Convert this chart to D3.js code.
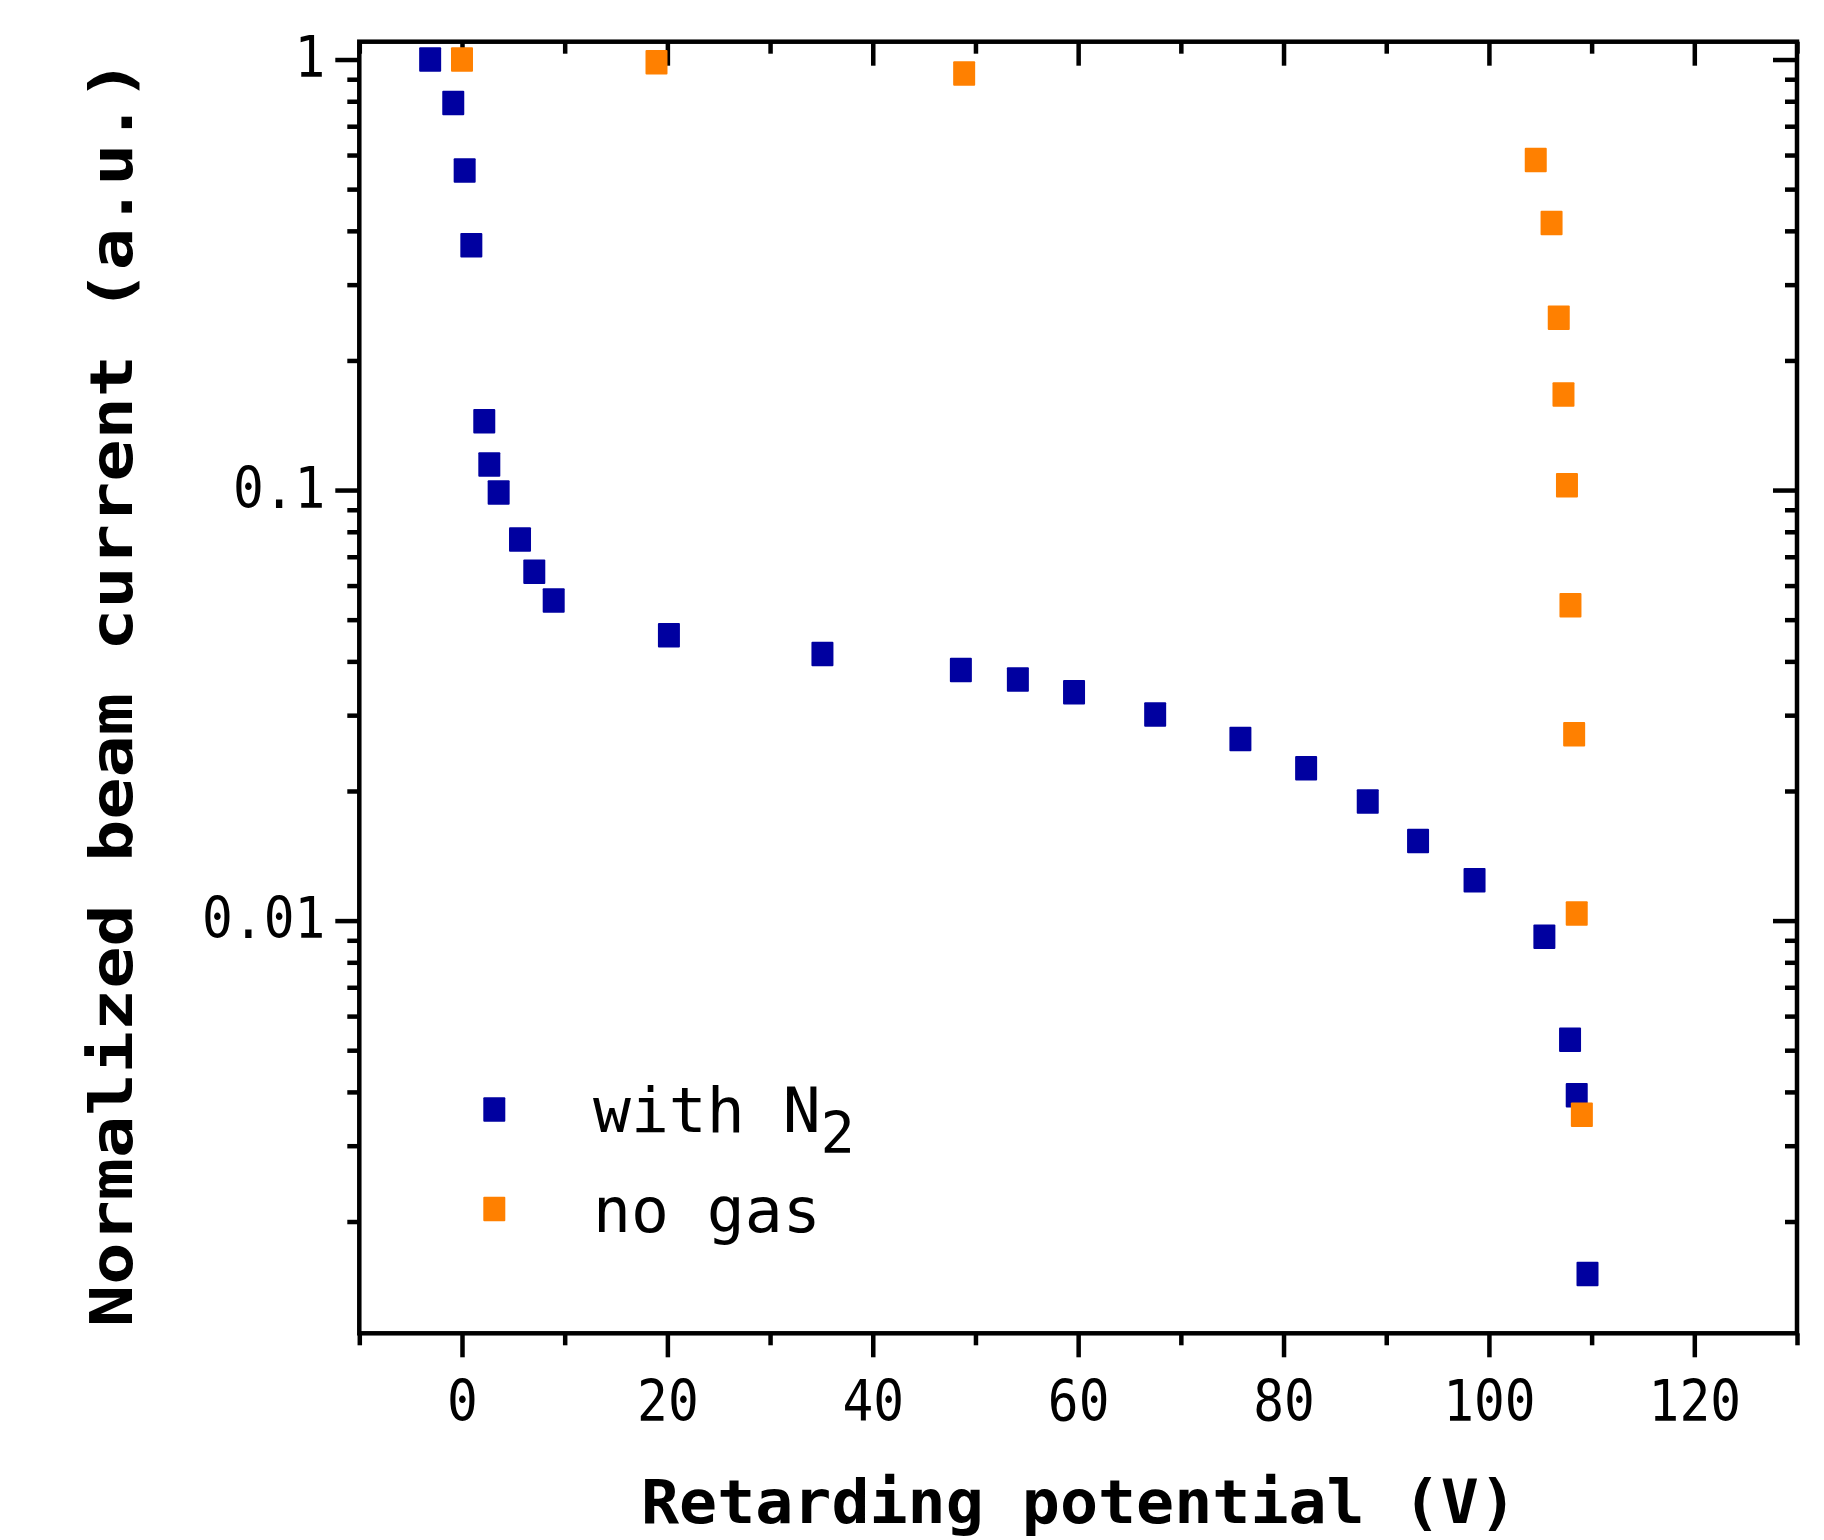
<!DOCTYPE html>
<html>
<head>
<meta charset="utf-8">
<script src="https://cdn.jsdelivr.net/npm/d3@7"></script>
<style>
  body { margin: 0; background: #fff; }
  svg { display: block; }
</style>
</head>
<body>
<svg id="chart"></svg>
<script>
// Data
const n2Voltage = [-3.1, -0.85, 0.26, 0.91, 2.17, 2.66, 3.57, 5.65, 7.04, 8.93,
                   20.15, 35.1, 48.58, 54.13, 59.6, 67.5, 75.8, 82.2, 88.2, 93.1,
                   98.6, 105.4, 107.9, 108.55, 109.6];
const n2Current = [1.0, 0.793, 0.552, 0.3704, 0.1445, 0.1146, 0.0987, 0.0768, 0.0646, 0.0554,
                   0.046, 0.0416, 0.0382, 0.0363, 0.0339, 0.0301, 0.0264, 0.0226, 0.0189, 0.0153,
                   0.0124, 0.00917, 0.00529, 0.00393, 0.00151];
const noGasVoltage = [0, 18.94, 48.9, 104.56, 106.1, 106.8, 107.26, 107.6, 107.94, 108.3, 108.55, 109.05];
const noGasCurrent = [1.0, 0.985, 0.928, 0.584, 0.417, 0.2513, 0.1667, 0.1026, 0.054, 0.0271, 0.01039, 0.00354];

const xMajorTicks = [0, 20, 40, 60, 80, 100, 120];
const xMinorTicks = [-10, 10, 30, 50, 70, 90, 110, 130];
const yMajorTicks = [1, 0.1, 0.01];
const yMinorTicks = [0.9, 0.8, 0.7, 0.6, 0.5, 0.4, 0.3, 0.2,
                     0.09, 0.08, 0.07, 0.06, 0.05, 0.04, 0.03, 0.02,
                     0.009, 0.008, 0.007, 0.006, 0.005, 0.004, 0.003, 0.002];
const yTickLabels = ["1", "0.1", "0.01"];

const seriesNames = ["with N", "no gas"];
const seriesColors = ["#0000a0", "#ff8000"];

// Layout
const W = 1824, H = 1540;
const plot = { left: 359.3, right: 1797, top: 41.7, bottom: 1333.3 };
const mono = "'DejaVu Sans Mono', monospace";
const lw = 4.5;
const charW = 30.8; // tick label pitch

const svg = d3.select("#chart").attr("width", W).attr("height", H);
svg.append("rect").attr("width", W).attr("height", H).attr("fill", "#fff");

const x = d3.scaleLinear().domain([-10, 130]).range([plot.left, plot.right]);
const y = d3.scaleLog().domain([0.0011, 1.1]).range([plot.bottom, plot.top]);

function styleAxis(sel) {
    sel.select(".domain").remove();
    sel.selectAll("line").attr("stroke", "#000").attr("stroke-width", lw);
    sel.attr("font-family", mono).attr("font-size", 57);
}

// Bottom axis (outward ticks)
svg.append("g")
    .attr("transform", `translate(0,${plot.bottom})`)
    .call(d3.axisBottom(x).tickValues(xMajorTicks).tickSize(24).tickFormat(d3.format("d")))
    .call(styleAxis)
    .call(g => g.selectAll("text")
        .attr("y", 88).attr("dy", null).attr("fill", "#000")
        .attr("textLength", d => String(d).length * charW)
        .attr("lengthAdjust", "spacingAndGlyphs"));
svg.append("g")
    .attr("transform", `translate(0,${plot.bottom})`)
    .call(d3.axisBottom(x).tickValues(xMinorTicks).tickSize(12).tickFormat(""))
    .call(styleAxis);

// Top axis (inward ticks)
svg.append("g")
    .attr("transform", `translate(0,${plot.top})`)
    .call(d3.axisTop(x).tickValues(xMajorTicks).tickSize(-24).tickFormat(""))
    .call(styleAxis);
svg.append("g")
    .attr("transform", `translate(0,${plot.top})`)
    .call(d3.axisTop(x).tickValues(xMinorTicks).tickSize(-12).tickFormat(""))
    .call(styleAxis);

// Left axis (outward ticks)
svg.append("g")
    .attr("transform", `translate(${plot.left},0)`)
    .call(d3.axisLeft(y).tickValues(yMajorTicks).tickSize(24)
        .tickFormat((d, i) => yTickLabels[i]))
    .call(styleAxis)
    .call(g => g.selectAll("text")
        .attr("x", -34).attr("y", 17).attr("dy", null).attr("fill", "#000")
        .attr("textLength", (d, i) => yTickLabels[i].length * charW)
        .attr("lengthAdjust", "spacingAndGlyphs"));
svg.append("g")
    .attr("transform", `translate(${plot.left},0)`)
    .call(d3.axisLeft(y).tickValues(yMinorTicks).tickSize(12).tickFormat(""))
    .call(styleAxis);

// Right axis (inward ticks)
svg.append("g")
    .attr("transform", `translate(${plot.right},0)`)
    .call(d3.axisRight(y).tickValues(yMajorTicks).tickSize(-24).tickFormat(""))
    .call(styleAxis);
svg.append("g")
    .attr("transform", `translate(${plot.right},0)`)
    .call(d3.axisRight(y).tickValues(yMinorTicks).tickSize(-12).tickFormat(""))
    .call(styleAxis);

// Frame
svg.append("rect")
    .attr("x", plot.left).attr("y", plot.top)
    .attr("width", plot.right - plot.left).attr("height", plot.bottom - plot.top)
    .attr("fill", "none").attr("stroke", "#000").attr("stroke-width", lw);

// Axis titles
svg.append("text")
    .attr("x", 1079).attr("y", 1523)
    .attr("text-anchor", "middle")
    .attr("font-family", mono).attr("font-weight", "bold").attr("font-size", 60)
    .attr("textLength", 876).attr("lengthAdjust", "spacingAndGlyphs")
    .text("Retarding potential (V)");

svg.append("text")
    .attr("transform", "translate(131.7,693) rotate(-90)")
    .attr("text-anchor", "middle")
    .attr("font-family", mono).attr("font-weight", "bold").attr("font-size", 58)
    .attr("textLength", 1268).attr("lengthAdjust", "spacingAndGlyphs")
    .text("Normalized beam current (a.u.)");

// Markers
const mw = 22, mh = 24.5;
const n2Data = n2Voltage.map((v, i) => ({ v, c: n2Current[i] }));
const noGasData = noGasVoltage.map((v, i) => ({ v, c: noGasCurrent[i] }));

[n2Data, noGasData].forEach((data, k) => {
    svg.append("g").selectAll("rect")
        .data(data)
        .enter()
        .append("rect")
        .attr("x", d => x(d.v) - mw / 2)
        .attr("y", d => y(d.c) - mh / 2)
        .attr("width", mw).attr("height", mh)
        .attr("rx", 1)
        .attr("fill", seriesColors[k]);
});

// Legend
const legend = svg.append("g").attr("font-family", mono).attr("font-size", 63);
const legendY = [1109.5, 1209];
const baseY = [1131.7, 1231.7];
seriesNames.forEach((name, k) => {
    legend.append("rect")
        .attr("x", 494.3 - mw / 2).attr("y", legendY[k] - mh / 2)
        .attr("width", mw).attr("height", mh).attr("rx", 1)
        .attr("fill", seriesColors[k]);
    const t = legend.append("text").attr("x", 593).attr("y", baseY[k]).text(name);
    if (k === 0) {
        t.append("tspan").attr("dy", 21.6).attr("font-size", 57).text("2");
    }
});
</script>
</body>
</html>
